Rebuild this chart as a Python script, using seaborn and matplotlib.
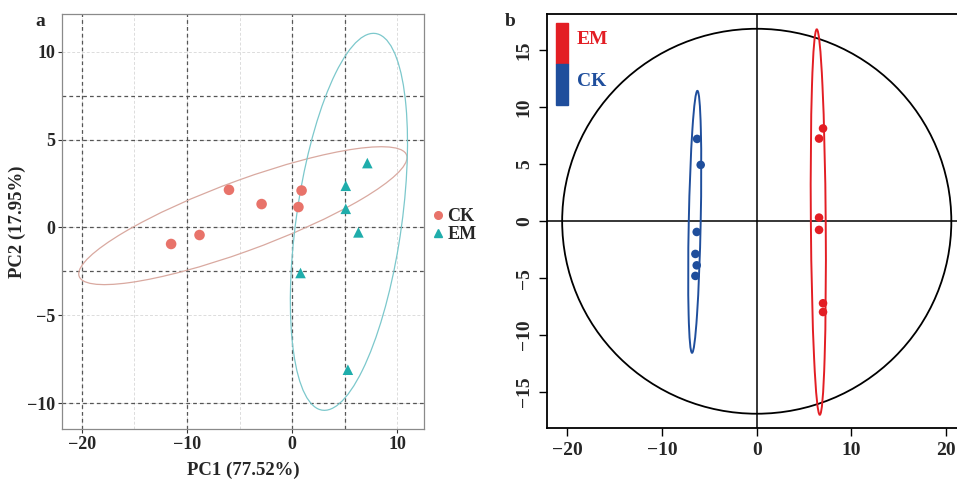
import numpy as np
import pandas as pd
import matplotlib
matplotlib.use("Agg")
import matplotlib.pyplot as plt
from matplotlib.patches import Ellipse
from matplotlib.lines import Line2D
import seaborn as sns

sns.set_theme(style="white")
plt.rcParams['font.family'] = ['Liberation Serif', 'DejaVu Serif']
plt.rcParams['font.weight'] = 'bold'
plt.rcParams['axes.unicode_minus'] = True

# ---------------- data: panel a (PCA) ----------------
a_groups = ["CK"] * 6 + ["EM"] * 6
a_pc1 = [-11.5, -8.8, -6.0, -2.9, 0.6, 0.9,
         7.15, 5.1, 5.1, 6.3, 0.8, 5.3]
a_pc2 = [-0.94, -0.43, 2.14, 1.33, 1.16, 2.10,
         3.66, 2.37, 1.06, -0.28, -2.59, -8.09]
# confidence ellipses: centre and scaled covariance [sxx, sxy, syy]
a_ell_center = {"CK": (-4.68, 0.67), "EM": (5.4, 0.32)}
a_ell_cov = {"CK": (243.4, 51.6, 15.37), "EM": (31.0, 25.0, 114.9)}

# ---------------- data: panel b (PLS-DA) ----------------
b_groups = ["CK"] * 6 + ["EM"] * 6
b_t1 = [-6.30, -5.92, -6.34, -6.48, -6.34, -6.48,
        7.0, 6.58, 6.58, 6.58, 7.0, 7.0]
b_t2 = [7.23, 4.95, -0.94, -2.87, -3.87, -4.80,
        8.15, 7.26, 0.32, -0.76, -7.2, -7.97]
b_ell_center = {"CK": (-6.55, -0.05), "EM": (6.5, -0.07)}
b_ell_cov = {"CK": (0.476, 3.25, 132.25), "EM": (0.64, -2.7, 286.3)}
b_big_ellipse = (0.0, 0.0, 20.55, 16.9)  # centre x, centre y, semi-axes

a_colors = {"CK": "#E8736A", "EM": "#1FADAB"}
a_ell_colors = {"CK": "#D9A9A0", "EM": "#7CC8CC"}
b_colors = {"CK": "#1F4E9C", "EM": "#E31E24"}

df_a = pd.DataFrame({"PC1": a_pc1, "PC2": a_pc2, "group": a_groups})
df_b = pd.DataFrame({"t1": b_t1, "t2": b_t2, "group": b_groups})


def cov_ellipse(center, cov, **kw):
    sxx, sxy, syy = cov
    m = np.array([[sxx, sxy], [sxy, syy]])
    vals, vecs = np.linalg.eigh(m)
    order = vals.argsort()[::-1]
    vals, vecs = vals[order], vecs[:, order]
    angle = np.degrees(np.arctan2(vecs[1, 0], vecs[0, 0]))
    return Ellipse(center, 2 * np.sqrt(vals[0]), 2 * np.sqrt(vals[1]),
                   angle=angle, fill=False, **kw)


fig = plt.figure(figsize=(9.57, 4.82), dpi=100)

# ================= panel a =================
ax = fig.add_axes([0.0648, 0.110, 0.3783, 0.861])
ax.set_xlim(-21.87, 12.54)
ax.set_ylim(-11.46, 12.14)

for x in [-20, -15, -10, -5, 0, 5, 10]:
    ax.axvline(x, color="#dcdcdc", lw=0.7, ls=(0, (3, 2)), zorder=0)
for y in [-10, -5, 0, 5, 10]:
    ax.axhline(y, color="#dcdcdc", lw=0.7, ls=(0, (3, 2)), zorder=0)
for x in [-20, -10, 0, 5]:
    ax.axvline(x, color="#555555", lw=0.9, ls=(0, (3, 2.5)), zorder=0.5)
for y in [7.5, 5, 0, -2.5, -10]:
    ax.axhline(y, color="#555555", lw=0.9, ls=(0, (3, 2.5)), zorder=0.5)

for g in ["CK", "EM"]:
    ax.add_patch(cov_ellipse(a_ell_center[g], a_ell_cov[g],
                             edgecolor=a_ell_colors[g], lw=0.9, zorder=1))

sns.scatterplot(data=df_a, x="PC1", y="PC2", hue="group", style="group",
                markers={"CK": "o", "EM": "^"}, palette=a_colors,
                s=58, edgecolor="none", ax=ax, zorder=3, legend=False)

ax.set_xticks([-20, -10, 0, 10])
ax.set_yticks([-10, -5, 0, 5, 10])
ax.tick_params(axis="both", which="major", labelsize=13, length=3,
               width=0.8, color="#333333", direction="out", pad=2,
               bottom=True, left=True)
for lab in ax.get_xticklabels() + ax.get_yticklabels():
    lab.set_fontweight("bold")
for sp in ax.spines.values():
    sp.set_color("#8a8a8a")
    sp.set_linewidth(0.9)
ax.set_xlabel("PC1 (77.52%)", fontsize=13.5, fontweight="bold", labelpad=6)
ax.set_ylabel("PC2 (17.95%)", fontsize=13.5, fontweight="bold", labelpad=0.5)

handles = [Line2D([], [], marker="o", ls="", color=a_colors["CK"], markersize=5.5),
           Line2D([], [], marker="^", ls="", color=a_colors["EM"], markersize=5.5)]
ax.legend(handles, ["CK", "EM"], loc="center left", bbox_to_anchor=(1.0, 0.49),
          frameon=False, fontsize=13, handletextpad=0.1, labelspacing=0.05,
          handlelength=0.8, borderaxespad=0.0)

fig.text(0.037, 0.955, "a", fontsize=14, fontweight="bold", ha="left", va="center")

# ================= panel b =================
bx = fig.add_axes([0.5713, 0.1114, 0.4389, 0.8596])
bx.set_xlim(-22.18, 22.18)
bx.set_ylim(-18.18, 18.2)

bx.axhline(0, color="black", lw=1.1, zorder=1)
bx.axvline(0, color="black", lw=1.1, zorder=1)
cx, cy, rx, ry = b_big_ellipse
bx.add_patch(Ellipse((cx, cy), 2 * rx, 2 * ry, fill=False, edgecolor="black",
                     lw=1.3, zorder=1))
for g in ["CK", "EM"]:
    bx.add_patch(cov_ellipse(b_ell_center[g], b_ell_cov[g],
                             edgecolor=b_colors[g], lw=1.4, zorder=2))

sns.scatterplot(data=df_b, x="t1", y="t2", hue="group", palette=b_colors,
                s=38, edgecolor="none", ax=bx, zorder=3, legend=False)

bx.set_xticks([-20, -10, 0, 10, 20])
bx.set_yticks([-15, -10, -5, 0, 5, 10, 15])
bx.tick_params(axis="both", labelsize=14, length=6, width=1.0, color="black",
               direction="out", pad=4, bottom=True, left=True)
for lab in bx.get_xticklabels() + bx.get_yticklabels():
    lab.set_fontweight("bold")
for lab in bx.get_yticklabels():
    lab.set_rotation(90)
    lab.set_va("center")
for sp in bx.spines.values():
    sp.set_color("black")
    sp.set_linewidth(1.3)
bx.set_xlabel("")
bx.set_ylabel("")

# colour-strip legend
fig.patches.append(plt.Rectangle((555.7 / 957, 1 - 64 / 482), 12 / 957, 41.3 / 482,
                                 transform=fig.transFigure, color=b_colors["EM"], zorder=5))
fig.patches.append(plt.Rectangle((555.7 / 957, 1 - 105.3 / 482), 12 / 957, 41.3 / 482,
                                 transform=fig.transFigure, color=b_colors["CK"], zorder=5))
fig.text(577 / 957, 1 - 40 / 482, "EM", color=b_colors["EM"], fontsize=14,
         fontweight="bold", va="center", ha="left")
fig.text(577 / 957, 1 - 81.5 / 482, "CK", color=b_colors["CK"], fontsize=14,
         fontweight="bold", va="center", ha="left")

fig.text(505 / 957, 0.955, "b", fontsize=14, fontweight="bold", ha="left", va="center")

fig.savefig("out.png", dpi=100)
